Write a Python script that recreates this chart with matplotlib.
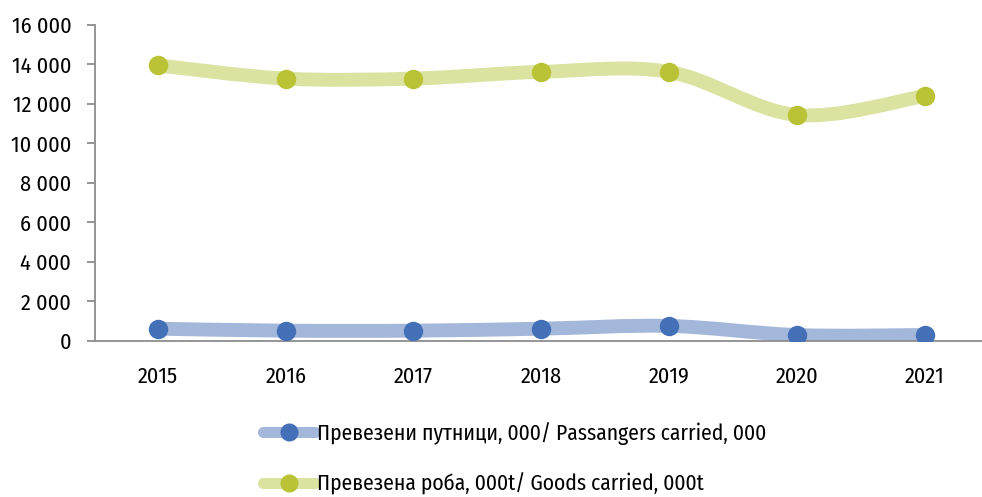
import numpy as np
import matplotlib
matplotlib.use("Agg")
import matplotlib.pyplot as plt
from matplotlib.path import Path
from matplotlib.patches import PathPatch
from matplotlib.lines import Line2D
from matplotlib.ticker import FuncFormatter

plt.rcParams['font.family'] = ['Fira Sans Condensed', 'DejaVu Sans']

years = ['2015', '2016', '2017', '2018', '2019', '2020', '2021']
passengers = [620, 520, 520, 620, 760, 300, 300]
goods = [13950, 13280, 13280, 13620, 13620, 11440, 12400]

pass_line = '#a3b7db'
pass_dot = '#4470b8'
goods_line = '#dce3a0'
goods_dot = '#b9c335'


def smooth_path(xs, ys):
    # excel-like smoothed line: bezier segments through every point
    pts = np.column_stack([xs, ys]).astype(float)
    ext = np.vstack([pts[0], pts, pts[-1]])
    verts = [pts[0]]
    codes = [Path.MOVETO]
    for i in range(len(pts) - 1):
        p0, p1, p2, p3 = ext[i], ext[i + 1], ext[i + 2], ext[i + 3]
        verts += [p1 + (p2 - p0) / 6, p2 - (p3 - p1) / 6, p2]
        codes += [Path.CURVE4] * 3
    return Path(verts, codes)


fig = plt.figure(figsize=(9.82, 4.97), dpi=100)
ax = fig.add_axes([0.0967, 0.314, 0.9033, 0.636])
x = np.arange(len(years))

for vals, lc, dc in [(passengers, pass_line, pass_dot), (goods, goods_line, goods_dot)]:
    ax.add_patch(PathPatch(smooth_path(x, vals), facecolor='none', edgecolor=lc,
                           lw=10, capstyle='round', joinstyle='round', zorder=2))
    ax.plot(x, vals, linestyle='none', marker='o', ms=14, color=dc,
            markeredgewidth=0, zorder=3)

ax.set_xlim(-0.493, 6.45)
ax.set_ylim(0, 16000)
ax.set_yticks(np.arange(0, 16001, 2000))
ax.yaxis.set_major_formatter(FuncFormatter(lambda v, p: f'{int(v):,}'.replace(',', ' ')))
ax.set_xticks(x)
ax.set_xticklabels(years)

for s in ['top', 'right']:
    ax.spines[s].set_visible(False)
for s in ['left', 'bottom']:
    ax.spines[s].set_color('#8c8c8c')
    ax.spines[s].set_linewidth(1.3)
ax.tick_params(axis='y', length=6, width=1.3, color='#8c8c8c', pad=11, labelsize=16)
ax.tick_params(axis='x', length=0, pad=18, labelsize=16)

handles = [
    Line2D([], [], color=pass_line, lw=8, solid_capstyle='round', marker='o',
           ms=13, markerfacecolor=pass_dot, markeredgewidth=0),
    Line2D([], [], color=goods_line, lw=8, solid_capstyle='round', marker='o',
           ms=13, markerfacecolor=goods_dot, markeredgewidth=0),
]
labels = ['Превезени путници, 000/ Passangers carried, 000',
          'Превезена роба, 000t/ Goods carried, 000t']
fig.legend(handles, labels, loc='center left', bbox_to_anchor=(0.268, 0.078), frameon=False,
           fontsize=15.5, handlelength=2.4, handletextpad=0.1, labelspacing=1.27,
           alignment='left', borderaxespad=0, borderpad=0)

fig.savefig('out.png', dpi=100)
